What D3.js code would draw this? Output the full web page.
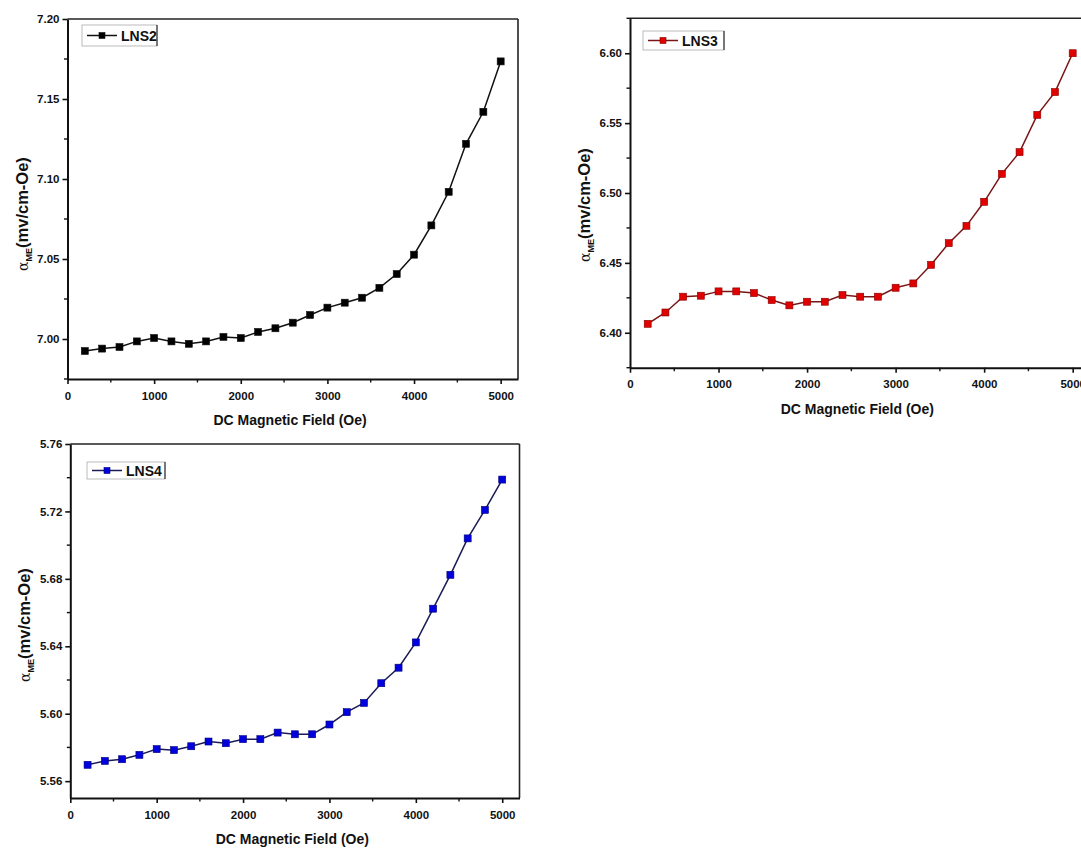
<!DOCTYPE html>
<html>
<head>
<meta charset="utf-8">
<script src="https://cdn.jsdelivr.net/npm/d3@7"></script>
<style>
  html, body { margin: 0; padding: 0; background: #fff; }
  svg { display: block; font-family: "Liberation Sans", Arial, sans-serif; }
</style>
</head>
<body>
<svg id="chart" width="1081" height="849"></svg>
<script>
// DC magnetic field values (Oe)
const fieldOe = [200, 400, 600, 800, 1000, 1200, 1400, 1600, 1800, 2000, 2200, 2400,
  2600, 2800, 3000, 3200, 3400, 3600, 3800, 4000, 4200, 4400, 4600, 4800, 5000];

// ME coefficient, mV/cm-Oe
const lns2 = [6.9925, 6.994, 6.995, 6.9985, 7.0006, 6.9985, 6.997, 6.9985, 7.0013, 7.0006,
  7.0044, 7.0067, 7.0102, 7.015, 7.0196, 7.0227, 7.0258, 7.032, 7.0406, 7.0527,
  7.071, 7.092, 7.122, 7.142, 7.1735];
const lns3 = [6.4064, 6.4145, 6.4258, 6.4265, 6.4296, 6.4296, 6.4284, 6.4234, 6.4196, 6.4222,
  6.4222, 6.427, 6.4258, 6.4258, 6.4322, 6.4353, 6.4486, 6.4641, 6.4765, 6.4937,
  6.5137, 6.5292, 6.5559, 6.5722, 6.60];
const lns4 = [5.5697, 5.572, 5.573, 5.5756, 5.579, 5.5784, 5.5807, 5.5835, 5.5825, 5.5849,
  5.5849, 5.5888, 5.5878, 5.5878, 5.5936, 5.6009, 5.6064, 5.6181, 5.6273, 5.6423,
  5.6623, 5.6824, 5.704, 5.7209, 5.7389];

// Tick values
const xTicks = [0, 1000, 2000, 3000, 4000, 5000];
const xMinor = [500, 1500, 2500, 3500, 4500];
const yTicksLNS2 = [7.00, 7.05, 7.10, 7.15, 7.20];
const yTicksLNS3 = [6.40, 6.45, 6.50, 6.55, 6.60];
const yTicksLNS4 = [5.56, 5.60, 5.64, 5.68, 5.72, 5.76];

const svg = d3.select("#chart");

const panels = [
  { name: "LNS2", values: lns2, yTicks: yTicksLNS2, yDomain: [6.975, 7.20], fmt: ".2f",
    left: 67.5, right: 518, top: 19, bottom: 379, titleY: 214,
    fill: "#000000", stroke: "#111111", line: "#111111",
    legend: { x: 82, y: 25, w: 75, h: 21 } },
  { name: "LNS3", values: lns3, yTicks: yTicksLNS3, yDomain: [6.375, 6.625], fmt: ".2f",
    left: 630, right: 1090.4, top: 18.3, bottom: 367.7, titleY: 205,
    fill: "#e00000", stroke: "#8a0000", line: "#7a1515",
    legend: { x: 643, y: 31, w: 81, h: 19 } },
  { name: "LNS4", values: lns4, yTicks: yTicksLNS4, yDomain: [5.55, 5.76], fmt: ".2f",
    left: 70.3, right: 519.5, top: 444, bottom: 798, titleY: 625,
    fill: "#0000dd", stroke: "#00007a", line: "#1b1b55",
    legend: { x: 87, y: 462, w: 78, h: 17 } }
];

panels.forEach(p => {
  const x = d3.scaleLinear().domain([0, 5200]).range([p.left, p.right]);
  const y = d3.scaleLinear().domain(p.yDomain).range([p.bottom, p.top]);
  const g = svg.append("g");

  // frame: top and right edges
  g.append("line").attr("x1", p.left).attr("x2", p.right).attr("y1", p.top).attr("y2", p.top)
    .attr("stroke", "#222").attr("stroke-width", 1.6);
  g.append("line").attr("x1", p.right).attr("x2", p.right).attr("y1", p.top).attr("y2", p.bottom)
    .attr("stroke", "#222").attr("stroke-width", 1.6);

  // x axis
  const xa = g.append("g").attr("transform", `translate(0,${p.bottom})`)
    .call(d3.axisBottom(x).tickValues(xTicks).tickFormat(d3.format("d")).tickSize(5).tickSizeOuter(0));
  xa.select(".domain").attr("stroke", "#111").attr("stroke-width", 2);
  xa.selectAll(".tick line").attr("stroke", "#111").attr("stroke-width", 1.6);
  xa.selectAll(".tick text").attr("dy", "1.1em").style("font-size", "11.5px").style("font-weight", "bold").attr("fill", "#111");
  xa.selectAll(".minor").data(xMinor).enter().append("line")
    .attr("x1", d => x(d)).attr("x2", d => x(d)).attr("y1", 0).attr("y2", 3.5)
    .attr("stroke", "#111").attr("stroke-width", 1.4);

  // y axis
  const ya = g.append("g").attr("transform", `translate(${p.left},0)`)
    .call(d3.axisLeft(y).tickValues(p.yTicks).tickFormat(d3.format(p.fmt)).tickSize(5).tickSizeOuter(0));
  ya.select(".domain").attr("stroke", "#111").attr("stroke-width", 2);
  ya.selectAll(".tick line").attr("stroke", "#111").attr("stroke-width", 1.6);
  ya.selectAll(".tick text").attr("x", -8).style("font-size", "11.5px").style("font-weight", "bold").attr("fill", "#111");
  const step = p.yTicks[1] - p.yTicks[0];
  const yMinor = [];
  for (let i = 0; i < p.yTicks.length; i++) {
    const m = p.yTicks[i] + step / 2;
    if (m <= p.yDomain[1]) yMinor.push(m);
  }
  if (p.yTicks[0] - step / 2 >= p.yDomain[0]) yMinor.unshift(p.yTicks[0] - step / 2);
  ya.selectAll(".minor").data(yMinor).enter().append("line")
    .attr("x1", 0).attr("x2", -3.5).attr("y1", d => y(d)).attr("y2", d => y(d))
    .attr("stroke", "#111").attr("stroke-width", 1.4);

  // axis titles
  g.append("text")
    .attr("x", (x(0) + x(5000)) / 2 + 6).attr("y", p.bottom + 46)
    .attr("text-anchor", "middle").style("font-size", "14px").style("font-weight", "bold")
    .attr("fill", "#111").text("DC Magnetic Field (Oe)");

  const yt = g.append("text")
    .attr("transform", `translate(${p.left - 40},${p.titleY}) rotate(-90)`)
    .attr("text-anchor", "middle").attr("fill", "#111");
  yt.append("tspan").style("font-size", "14px").style("font-family", "'DejaVu Serif', serif").text("α");
  yt.append("tspan").attr("dy", 4).style("font-size", "9px").style("font-weight", "bold").text("ME");
  yt.append("tspan").attr("dy", -4).style("font-size", "16.5px").style("font-weight", "bold").text("(mv/cm-Oe)");

  // data line and markers
  const pts = fieldOe.map((f, i) => [f, p.values[i]]);
  g.append("path").datum(pts)
    .attr("d", d3.line().x(d => x(d[0])).y(d => y(d[1])))
    .attr("fill", "none").attr("stroke", p.line).attr("stroke-width", 1.5);
  const ms = 7;
  g.selectAll(".pt").data(pts).enter().append("rect")
    .attr("x", d => x(d[0]) - ms / 2).attr("y", d => y(d[1]) - ms / 2)
    .attr("width", ms).attr("height", ms)
    .attr("fill", p.fill).attr("stroke", p.stroke).attr("stroke-width", 0.6);

  // legend
  const L = p.legend;
  const lg = g.append("g");
  lg.append("rect").attr("x", L.x).attr("y", L.y).attr("width", L.w).attr("height", L.h)
    .attr("fill", "#fff").attr("stroke", "#aaa").attr("stroke-width", 0.8);
  lg.append("line").attr("x1", L.x + L.w).attr("x2", L.x + L.w).attr("y1", L.y).attr("y2", L.y + L.h)
    .attr("stroke", "#333").attr("stroke-width", 1.2);
  const cy = L.y + L.h / 2;
  lg.append("line").attr("x1", L.x + 5).attr("x2", L.x + 35).attr("y1", cy).attr("y2", cy)
    .attr("stroke", p.line).attr("stroke-width", 1.5);
  lg.append("rect").attr("x", L.x + 20 - 3).attr("y", cy - 3).attr("width", 6).attr("height", 6)
    .attr("fill", p.fill).attr("stroke", p.stroke).attr("stroke-width", 0.6);
  lg.append("text").attr("x", L.x + 39).attr("y", cy).attr("dy", "0.36em")
    .style("font-size", "14px").style("font-weight", "bold").attr("fill", "#111").text(p.name);
});
</script>
</body>
</html>
